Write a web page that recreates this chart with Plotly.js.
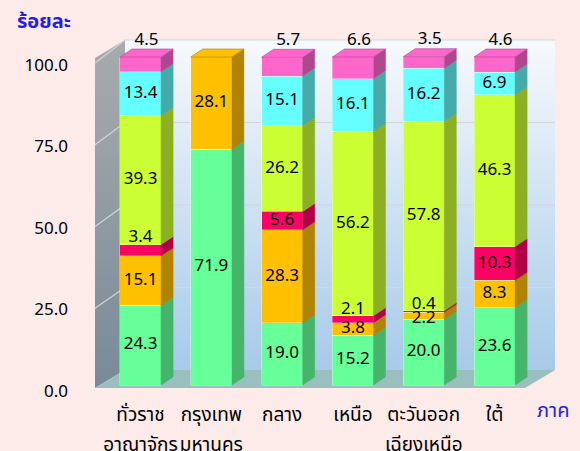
<!DOCTYPE html>
<html><head><meta charset="utf-8">
<script src="https://cdn.plot.ly/plotly-3.0.1.min.js"></script>
<style>html,body{margin:0;padding:0;background:#FCEBE8;}</style>
</head><body><div id="chart" style="width:580px;height:451px;"></div>
<script>
// ---- data ----
const categoriesLine1 = ['ทั่วราช', 'กรุงเทพ', 'กลาง', 'เหนือ', 'ตะวันออก', 'ใต้'];
const categoriesLine2 = ['อาณาจักร', 'มหานคร', '', '', 'เฉียงเหนือ', ''];
const seriesGreen  = [24.3, 71.9, 19.0, 15.2, 20.0, 23.6];
const seriesOrange = [15.1, 28.1, 28.3, 3.8, 2.2, 8.3];
const seriesRed    = [3.4, null, 5.6, 2.1, 0.4, 10.3];
const seriesLime   = [39.3, null, 26.2, 56.2, 57.8, 46.3];
const seriesCyan   = [13.4, null, 15.1, 16.1, 16.2, 6.9];
const seriesPink   = [4.5, null, 5.7, 6.6, 3.5, 4.6];
const yTicks = [0, 25, 50, 75, 100];
const yTitle = 'ร้อยละ';
const xTitle = 'ภาค';

// ---- styling ----
const FONT = "Tahoma, 'Noto Sans Thai', Loma, Garuda, Waree, 'DejaVu Sans Condensed', 'DejaVu Sans', sans-serif";
const series = [
  {v: seriesGreen,  front: '#66FF99', side: '#46B46A', label: 'center'},
  {v: seriesOrange, front: '#FFC000', side: '#B08400', label: 'center'},
  {v: seriesRed,    front: '#FF0066', side: '#B00046', label: 'smallAbove'},
  {v: seriesLime,   front: '#CCFF33', side: '#8DAF22', label: 'center'},
  {v: seriesCyan,   front: '#66FFFF', side: '#44AAAA', label: 'center'},
  {v: seriesPink,   front: '#FF66CC', side: '#B0468E', label: 'outside'}
];
const W = 580, H = 451, ml = 95, mr = 25, mt = 30, mb = 56;
const pw = W - ml - mr, ph = H - mt - mb;
const xRange = [-0.643, 5.854];
const yRange = [-3.05, 108.23];
const y2Range = [-1.227, 110.74];
const barW = 0.58, dx = 0.17, dy = 2.44;

// ---- background walls (decoration) ----
function yFront(v){ return 390 - 3.27 * v; }
function yBack(v){ return 370 - 3.30 * v; }
let svg = "<svg xmlns='http://www.w3.org/2000/svg' width='580' height='451' viewBox='0 0 580 451'>" +
 "<defs><linearGradient id='bw' x1='0' y1='0' x2='0' y2='1'><stop offset='0' stop-color='#F7F9FC'/><stop offset='1' stop-color='#A7CAE9'/></linearGradient>" +
 "<linearGradient id='lw' x1='0' y1='0' x2='0' y2='1'><stop offset='0' stop-color='#A9ABAD'/><stop offset='1' stop-color='#788A99'/></linearGradient></defs>" +
 "<polygon points='125,40 555,40 555,370 125,370' fill='url(#bw)'/>" +
 "<polygon points='95,58 125,40 125,370 95,388' fill='url(#lw)'/>" +
 "<polygon points='95,388 125,370 555,370 525,388' fill='#9BBEBE'/>";
yTicks.forEach(v => {
  if (v > 0) {
    svg += "<line x1='125' y1='" + yBack(v) + "' x2='555' y2='" + yBack(v) + "' stroke='#D6D6D8' stroke-width='1.2'/>";
    svg += "<line x1='95' y1='" + yFront(v) + "' x2='125' y2='" + yBack(v) + "' stroke='#D0D4D8' stroke-width='1.2'/>";
  }
});
svg += "</svg>";
const bgSrc = 'data:image/svg+xml;charset=utf-8,' + encodeURIComponent(svg);

// ---- traces ----
const xs = categoriesLine1.map((_, i) => i);
const traces = [];
const cum = xs.map(() => 0);
const sideTraces = [], topTraces = [], labelCenter = {x: [], y: [], t: []}, labelAbove = {x: [], y: [], t: []};
const totals = xs.map(i => series.reduce((a, s) => a + (s.v[i] || 0), 0));
series.forEach((s, si) => {
  traces.push({type: 'bar', x: xs, y: s.v, width: barW, marker: {color: s.front, line: {width: 0.6, color: 'rgba(255,255,255,0.55)'}},
    hoverinfo: 'skip', showlegend: false});
  const sx = [], sy = [];
  xs.forEach(i => {
    const v = s.v[i];
    if (v === null || v === undefined) return;
    const b = cum[i], t = b + v;
    const xr = i + barW / 2;
    sx.push(xr, xr + dx, xr + dx, xr, xr, null);
    sy.push(b, b + dy, t + dy, t, b, null);
    if (s.label === 'outside') {
      labelAbove.x.push(i + dx / 2); labelAbove.y.push(t + dy); labelAbove.t.push(v.toFixed(1));
    } else if (s.label === 'smallAbove' && v < 5) {
      labelAbove.x.push(i); labelAbove.y.push(t - 0.6); labelAbove.t.push(v.toFixed(1));
    } else {
      labelCenter.x.push(i); labelCenter.y.push(b + v / 2 - (v < 3 ? 0.8 : 0)); labelCenter.t.push(v.toFixed(1));
    }
    cum[i] = t;
  });
  sideTraces.push({type: 'scatter', mode: 'lines', x: sx, y: sy, fill: 'toself', fillcolor: s.side,
    line: {width: 0.5, color: s.side}, hoverinfo: 'skip', showlegend: false});
});
series.forEach((s, si) => {
  const tx = [], ty = [];
  xs.forEach(i => {
    const v = s.v[i];
    if (v === null || v === undefined) return;
    const above = series.slice(si + 1).some(o => o.v[i] !== null && o.v[i] !== undefined);
    if (above) return;
    const T = totals[i];
    const xl = i - barW / 2, xr = i + barW / 2;
    tx.push(xl, xr, xr + dx, xl + dx, xl, null);
    ty.push(T, T, T + dy, T + dy, T, null);
  });
  if (tx.length) topTraces.push({type: 'scatter', mode: 'lines', x: tx, y: ty, fill: 'toself', fillcolor: s.front,
    line: {width: 0.6, color: s.side}, hoverinfo: 'skip', showlegend: false});
});
const labelFont = {family: FONT, size: 17, color: '#000'};
const labelTraces = [
  {type: 'scatter', mode: 'text', x: labelCenter.x, y: labelCenter.y, text: labelCenter.t, textposition: 'middle center',
   textfont: labelFont, hoverinfo: 'skip', showlegend: false, cliponaxis: false},
  {type: 'scatter', mode: 'text', x: labelAbove.x, y: labelAbove.y, text: labelAbove.t, textposition: 'top center',
   textfont: labelFont, hoverinfo: 'skip', showlegend: false, cliponaxis: false}
];
// invisible anchors so the overlaying tick-label axes get drawn
const anchorTraces = [
  {type: 'scatter', mode: 'markers', x: [0], y: [0], xaxis: 'x', yaxis: 'y2', marker: {opacity: 0}, hoverinfo: 'skip', showlegend: false},
  {type: 'scatter', mode: 'markers', x: [0], y: [0], xaxis: 'x2', yaxis: 'y', marker: {opacity: 0}, hoverinfo: 'skip', showlegend: false}
];

const data = traces.concat(sideTraces, topTraces, labelTraces, anchorTraces);
const catFont = {family: FONT, size: 19, color: '#000'};
const layout = {
  width: W, height: H,
  margin: {l: ml, r: mr, t: mt, b: mb},
  paper_bgcolor: '#FCEBE8', plot_bgcolor: 'rgba(0,0,0,0)',
  barmode: 'stack', showlegend: false, hovermode: false,
  font: {family: FONT, size: 17, color: '#000'},
  xaxis: {range: xRange, tickvals: xs, ticktext: categoriesLine1, showgrid: false, zeroline: false, showline: false,
    ticks: '', tickfont: catFont, ticklabelstandoff: 6, fixedrange: true},
  xaxis2: {range: xRange, overlaying: 'x', anchor: 'y', side: 'bottom', tickvals: xs, ticktext: categoriesLine2,
    showgrid: false, zeroline: false, showline: false, ticks: '', tickfont: catFont,
    ticklabelstandoff: 36, fixedrange: true},
  yaxis: {range: yRange, showticklabels: false, showgrid: false, zeroline: false, showline: false, ticks: '', fixedrange: true},
  yaxis2: {range: y2Range, overlaying: 'y', anchor: 'x', side: 'left', tickvals: yTicks, ticktext: yTicks.map(v => v.toFixed(1)),
    showgrid: false, zeroline: false, showline: false, ticks: '', tickfont: {family: FONT, size: 17, color: '#000'},
    ticklabelstandoff: 26, fixedrange: true},
  images: [{source: bgSrc, xref: 'paper', yref: 'paper', x: -ml / pw, y: 1 + mt / ph, sizex: W / pw, sizey: H / ph,
    sizing: 'stretch', xanchor: 'left', yanchor: 'top', layer: 'below'}],
  annotations: [
    {text: '<b>' + yTitle + '</b>', xref: 'paper', yref: 'paper', x: (15 - ml) / pw, y: 1 - (22 - mt) / ph, xanchor: 'left', yanchor: 'middle',
     showarrow: false, font: {family: FONT, size: 20, color: '#1F1FF0'}},
    {text: xTitle, xref: 'paper', yref: 'paper', x: (535 - ml) / pw, y: 1 - (411 - mt) / ph, xanchor: 'left', yanchor: 'middle',
     showarrow: false, font: {family: FONT, size: 20, color: '#1F1FF0'}}
  ]
};
Plotly.newPlot('chart', data, layout, {staticPlot: true, displayModeBar: false});
</script></body></html>
